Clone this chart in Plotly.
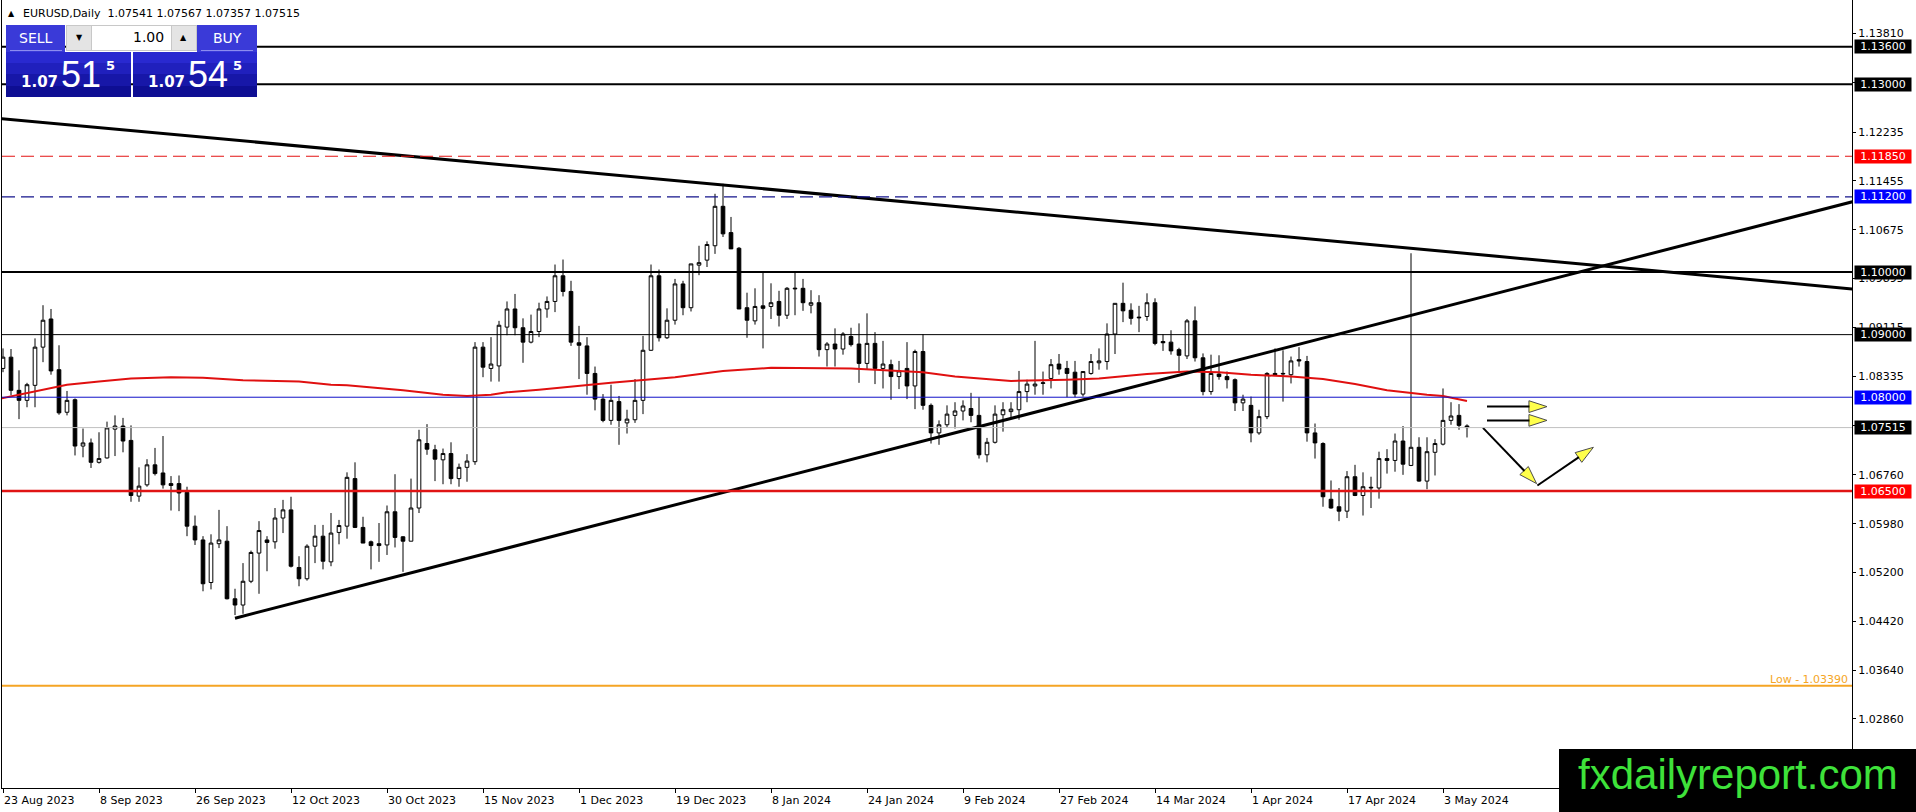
import plotly.graph_objects as go

# EURUSD daily candles, first visible bar 22 Aug 2023 .. last bar 8 May 2024
opens = [1.0846, 1.0864, 1.0811, 1.0795, 1.0819, 1.0880, 1.0925, 1.0844, 1.0776, 1.0796,
         1.0722, 1.0727, 1.0696, 1.0703, 1.0749, 1.0754, 1.0731, 1.0642, 1.0660, 1.0692,
         1.0679, 1.0662, 1.0662, 1.0648, 1.0594, 1.0572, 1.0504, 1.0566, 1.0570, 1.0478,
         1.0468, 1.0506, 1.0551, 1.0572, 1.0569, 1.0607, 1.0620, 1.0528, 1.0510, 1.0562,
         1.0578, 1.0537, 1.0584, 1.0594, 1.0670, 1.0592, 1.0569, 1.0566, 1.0564, 1.0617,
         1.0577, 1.0570, 1.0623, 1.0726, 1.0716, 1.0700, 1.0710, 1.0670, 1.0688, 1.0697,
         1.0880, 1.0846, 1.0850, 1.0912, 1.0941, 1.0911, 1.0888, 1.0905, 1.0941, 1.0953,
         1.0994, 1.0969, 1.0887, 1.0882, 1.0838, 1.0797, 1.0763, 1.0793, 1.0759, 1.0764,
         1.0795, 1.0875, 1.0994, 1.0895, 1.0923, 1.0981, 1.0943, 1.1011, 1.1019, 1.1042,
         1.1105, 1.1063, 1.1038, 1.0943, 1.0922, 1.0946, 1.0945, 1.0953, 1.0931, 1.0973,
         1.0974, 1.0947, 1.0951, 1.0876, 1.0885, 1.0877, 1.0897, 1.0885, 1.0854, 1.0886,
         1.0846, 1.0852, 1.0833, 1.0846, 1.0818, 1.0873, 1.0787, 1.0743, 1.0756, 1.0771,
         1.0778, 1.0782, 1.0771, 1.0708, 1.0728, 1.0772, 1.0777, 1.0780, 1.0809, 1.0818,
         1.0822, 1.0830, 1.0853, 1.0846, 1.0840, 1.0805, 1.0838, 1.0855, 1.0857, 1.0901,
         1.0950, 1.0939, 1.0928, 1.0929, 1.0951, 1.0889, 1.0888, 1.0876, 1.0866, 1.0922,
         1.0863, 1.0809, 1.0837, 1.0833, 1.0828, 1.0791, 1.0787, 1.0743, 1.0769, 1.0838,
         1.0837, 1.0836, 1.0860, 1.0857, 1.0743, 1.0726, 1.0637, 1.0625, 1.0618, 1.0673,
         1.0643, 1.0655, 1.0655, 1.0702, 1.0699, 1.0730, 1.0691, 1.0720, 1.0666, 1.0712,
         1.0725, 1.0763, 1.0771, 1.07541]
highs = [1.0878, 1.0877, 1.0843, 1.0823, 1.0894, 1.0947, 1.0941, 1.0883, 1.0810, 1.0798,
         1.0750, 1.0734, 1.0744, 1.0761, 1.0771, 1.0767, 1.0755, 1.0688, 1.0701, 1.0719,
         1.0738, 1.0674, 1.0675, 1.0657, 1.0611, 1.0578, 1.0581, 1.0620, 1.0594, 1.0494,
         1.0535, 1.0555, 1.0602, 1.0578, 1.0623, 1.0636, 1.0641, 1.0546, 1.0565, 1.0596,
         1.0596, 1.0615, 1.0604, 1.0680, 1.0696, 1.0609, 1.0571, 1.0599, 1.0627, 1.0677,
         1.0578, 1.0670, 1.0748, 1.0757, 1.0724, 1.0718, 1.0728, 1.0694, 1.0709, 1.0888,
         1.0888, 1.0896, 1.0922, 1.0953, 1.0965, 1.0926, 1.0932, 1.0951, 1.0961, 1.1012,
         1.1020, 1.0986, 1.0914, 1.0896, 1.0849, 1.0805, 1.0820, 1.0802, 1.0780, 1.0829,
         1.0898, 1.1012, 1.1004, 1.0942, 1.0989, 1.0986, 1.1013, 1.1042, 1.1049, 1.1125,
         1.1141, 1.1088, 1.1040, 1.0967, 1.0974, 1.1001, 1.0982, 1.0970, 1.0976, 1.1001,
         1.0989, 1.0971, 1.0963, 1.0888, 1.0910, 1.0904, 1.0911, 1.0918, 1.0934, 1.0904,
         1.0890, 1.0860, 1.0858, 1.0888, 1.0876, 1.0901, 1.0790, 1.0763, 1.0787, 1.0792,
         1.0795, 1.0807, 1.0800, 1.0735, 1.0787, 1.0792, 1.0792, 1.0842, 1.0828, 1.0890,
         1.0841, 1.0861, 1.0869, 1.0858, 1.0858, 1.0841, 1.0869, 1.0878, 1.0918, 1.0950,
         1.0983, 1.0950, 1.0946, 1.0966, 1.0958, 1.0901, 1.0907, 1.0879, 1.0925, 1.0945,
         1.0870, 1.0868, 1.0867, 1.0841, 1.0830, 1.0804, 1.0801, 1.0780, 1.0840, 1.0878,
         1.0875, 1.0865, 1.0880, 1.0866, 1.0758, 1.0728, 1.0667, 1.0655, 1.0682, 1.0692,
         1.0680, 1.0673, 1.0713, 1.0717, 1.0742, 1.0754, 1.1030, 1.0736, 1.0736, 1.0733,
         1.0814, 1.0792, 1.0789, 1.07567]
lows = [1.0840, 1.0803, 1.0765, 1.0784, 1.0784, 1.0856, 1.0836, 1.0772, 1.0771, 1.0707,
        1.0704, 1.0687, 1.0694, 1.0702, 1.0706, 1.0712, 1.0633, 1.0633, 1.0657, 1.0675,
        1.0654, 1.0619, 1.0618, 1.0578, 1.0564, 1.0490, 1.0493, 1.0559, 1.0477, 1.0452,
        1.0454, 1.0503, 1.0486, 1.0522, 1.0558, 1.0583, 1.0528, 1.0498, 1.0507, 1.0535,
        1.0525, 1.0530, 1.0565, 1.0574, 1.0591, 1.0567, 1.0525, 1.0537, 1.0548, 1.0560,
        1.0521, 1.0570, 1.0615, 1.0708, 1.0666, 1.0661, 1.0661, 1.0657, 1.0665, 1.0692,
        1.0832, 1.0825, 1.0825, 1.0899, 1.0899, 1.0855, 1.0886, 1.0896, 1.0927, 1.0936,
        1.0961, 1.0882, 1.0829, 1.0804, 1.0779, 1.0760, 1.0756, 1.0724, 1.0742, 1.0759,
        1.0773, 1.0874, 1.0889, 1.0893, 1.0916, 1.0931, 1.0937, 1.0995, 1.1008, 1.1029,
        1.1056, 1.1037, 1.0941, 1.0895, 1.0916, 1.0878, 1.0925, 1.0913, 1.0925, 1.0931,
        1.0938, 1.0934, 1.0865, 1.0849, 1.0849, 1.0868, 1.0881, 1.0823, 1.0845, 1.0821,
        1.0814, 1.0796, 1.0813, 1.0797, 1.0781, 1.0780, 1.0726, 1.0724, 1.0751, 1.0750,
        1.0763, 1.0760, 1.0702, 1.0696, 1.0726, 1.0745, 1.0767, 1.0764, 1.0792, 1.0804,
        1.0804, 1.0814, 1.0836, 1.0800, 1.0800, 1.0801, 1.0836, 1.0844, 1.0844, 1.0869,
        1.0920, 1.0916, 1.0904, 1.0922, 1.0883, 1.0874, 1.0868, 1.0841, 1.0861, 1.0857,
        1.0803, 1.0804, 1.0828, 1.0814, 1.0778, 1.0778, 1.0728, 1.0740, 1.0765, 1.0835,
        1.0793, 1.0822, 1.0849, 1.0729, 1.0702, 1.0625, 1.0622, 1.0602, 1.0607, 1.0642,
        1.0611, 1.0623, 1.0638, 1.0678, 1.0681, 1.0676, 1.0690, 1.0665, 1.0653, 1.0675,
        1.0723, 1.0756, 1.0748, 1.07357]
closes = [1.0864, 1.0811, 1.0795, 1.0820, 1.0880, 1.0923, 1.0842, 1.0775, 1.0795, 1.0722,
          1.0727, 1.0696, 1.0702, 1.0751, 1.0754, 1.0730, 1.0643, 1.0658, 1.0692, 1.0678,
          1.0660, 1.0659, 1.0647, 1.0594, 1.0572, 1.0502, 1.0567, 1.0572, 1.0478, 1.0468,
          1.0506, 1.0552, 1.0587, 1.0568, 1.0607, 1.0620, 1.0530, 1.0510, 1.0562, 1.0578,
          1.0538, 1.0583, 1.0595, 1.0672, 1.0592, 1.0567, 1.0563, 1.0563, 1.0617, 1.0576,
          1.0570, 1.0623, 1.0732, 1.0717, 1.0701, 1.0710, 1.0670, 1.0688, 1.0698, 1.0880,
          1.0848, 1.0853, 1.0915, 1.0941, 1.0911, 1.0888, 1.0905, 1.0941, 1.0953, 1.0994,
          1.0969, 1.0888, 1.0883, 1.0838, 1.0797, 1.0763, 1.0795, 1.0763, 1.0765, 1.0795,
          1.0875, 1.0994, 1.0895, 1.0923, 1.0981, 1.0943, 1.1013, 1.1015, 1.1044, 1.1105,
          1.1061, 1.1037, 1.0941, 1.0923, 1.0945, 1.0942, 1.0951, 1.0931, 1.0974, 1.0974,
          1.0951, 1.0951, 1.0876, 1.0885, 1.0877, 1.0901, 1.0884, 1.0854, 1.0886, 1.0846,
          1.0853, 1.0833, 1.0842, 1.0818, 1.0873, 1.0787, 1.0743, 1.0756, 1.0773, 1.0778,
          1.0786, 1.0771, 1.0708, 1.0728, 1.0773, 1.0780, 1.0781, 1.0809, 1.0821, 1.0821,
          1.0823, 1.0852, 1.0845, 1.0838, 1.0805, 1.0841, 1.0857, 1.0858, 1.0901, 1.0950,
          1.0938, 1.0926, 1.0927, 1.0951, 1.0886, 1.0887, 1.0874, 1.0867, 1.0922, 1.0863,
          1.0809, 1.0838, 1.0833, 1.0828, 1.0791, 1.0797, 1.0743, 1.0769, 1.0838, 1.0836,
          1.0838, 1.0858, 1.0858, 1.0743, 1.0727, 1.0641, 1.0623, 1.0618, 1.0673, 1.0643,
          1.0657, 1.0656, 1.0702, 1.0699, 1.0730, 1.0693, 1.0720, 1.0666, 1.0713, 1.0726,
          1.0763, 1.0770, 1.0755, 1.07515]
bars = list(range(len(opens)))

# moving average (red) at some bars
ma_bars = [-1, 4, 8, 12, 16, 21, 25, 30, 33, 37, 41, 43, 50, 55, 58, 61, 63, 67, 76, 84,
           90, 96, 106, 111, 115, 119, 126, 133, 137, 143, 148, 152, 156, 161, 165, 169,
           173, 178, 180, 183]
ma_values = [1.0796, 1.0809, 1.0820, 1.0825, 1.0830, 1.0832, 1.0831, 1.0827, 1.0826, 1.0825,
             1.0820, 1.0819, 1.0811, 1.0804, 1.0802, 1.0804, 1.0808, 1.0812, 1.0823, 1.0832,
             1.0842, 1.0847, 1.0846, 1.0842, 1.0840, 1.0833, 1.0826, 1.0828, 1.0830, 1.0837,
             1.0841, 1.0840, 1.0836, 1.0833, 1.0829, 1.0821, 1.0811, 1.0804, 1.0802, 1.0794]

date_ticks = [0, 12, 24, 36, 48, 60, 72, 84, 96, 108, 120, 132, 144, 156, 168, 180]
date_labels = ["23 Aug 2023", "8 Sep 2023", "26 Sep 2023", "12 Oct 2023", "30 Oct 2023",
               "15 Nov 2023", "1 Dec 2023", "19 Dec 2023", "8 Jan 2024", "24 Jan 2024",
               "9 Feb 2024", "27 Feb 2024", "14 Mar 2024", "1 Apr 2024", "17 Apr 2024",
               "3 May 2024"]

price_ticks = [1.13810, 1.13030, 1.12235, 1.11455, 1.10675, 1.09895, 1.09115, 1.08335,
               1.07555, 1.06760, 1.05980, 1.05200, 1.04420, 1.03640, 1.02860]

# horizontal levels drawn on the chart
levels = [1.13600, 1.13000, 1.11850, 1.11200, 1.10000, 1.09000, 1.08000, 1.07515, 1.06500]
low_level = 1.03390

# trend lines (bar, price)
down_line_x = [-1, 232]
down_line_y = [1.1246, 1.0972]
up_line_x = [29, 232]
up_line_y = [1.0447, 1.1115]

# yellow arrows (bar, price) start -> end
arrow_x0 = [185.5, 185.5, 185.0, 191.8]
arrow_y0 = [1.0785, 1.0763, 1.0751, 1.0659]
arrow_x1 = [193.0, 193.0, 191.7, 198.8]
arrow_y1 = [1.0785, 1.0763, 1.0662, 1.0720]

quote = [1.07541, 1.07567, 1.07357, 1.07515]
bid = 1.07515
ask = 1.07545
lot = 1.00

# ---- styling / geometry
W, H = 1916, 812
M_L, M_R, M_T, M_B = 2, 64, 0, 24
PW = W - M_L - M_R
PH = H - M_T - M_B
FONT = "DejaVu Sans"

level_style = {
    1.13600: ("black", 2, "solid", "black"),
    1.13000: ("black", 2, "solid", "black"),
    1.11850: ("#e41414", 1.2, "13px,6px", "#ff0000"),
    1.11200: ("#14148c", 1.2, "13px,6px", "#0000ff"),
    1.10000: ("black", 2, "solid", "black"),
    1.09000: ("black", 1, "solid", "black"),
    1.08000: ("#1010c8", 1, "solid", "#0000ff"),
    1.07515: ("#c0c0c0", 1, "solid", "black"),
    1.06500: ("#e01414", 2.5, "solid", "#ff0000"),
}


def fx(p):
    return (p - M_L) / PW


def fy(p):
    return 1 - (p - M_T) / PH


def rect(x0, y0, x1, y1, fill, line=None):
    return dict(type="rect", xref="paper", yref="paper",
                x0=fx(x0), x1=fx(x1), y0=fy(y0), y1=fy(y1),
                fillcolor=fill, line=dict(width=0 if line is None else 1, color=line or fill),
                layer="above")


def label(x, y, text, size, color="white", anchor="center", family=FONT, bold=False):
    if bold:
        text = f"<b>{text}</b>"
    return dict(x=fx(x), y=fy(y), xref="paper", yref="paper", text=text, showarrow=False,
                xanchor=anchor, yanchor="middle", font=dict(family=family, size=size, color=color))


fig = go.Figure()

fig.add_trace(go.Candlestick(
    x=bars, open=opens, high=highs, low=lows, close=closes,
    increasing=dict(line=dict(color="black", width=1), fillcolor="white"),
    decreasing=dict(line=dict(color="black", width=1), fillcolor="black"),
    whiskerwidth=0, hoverinfo="x+y", showlegend=False,
))

fig.add_trace(go.Scatter(x=ma_bars, y=ma_values, mode="lines",
                         line=dict(color="#e01010", width=2), hoverinfo="skip", showlegend=False))

for xs, ys in [(down_line_x, down_line_y), (up_line_x, up_line_y)]:
    fig.add_trace(go.Scatter(x=xs, y=ys, mode="lines", line=dict(color="black", width=3),
                             hoverinfo="skip", showlegend=False))

for x0, y0, x1, y1 in zip(arrow_x0, arrow_y0, arrow_x1, arrow_y1):
    fig.add_trace(go.Scatter(
        x=[x0, x1], y=[y0, y1], mode="lines+markers",
        line=dict(color="black", width=2),
        marker=dict(symbol="arrow", size=[0, 19], angleref="previous", color="#ffff00",
                    line=dict(color="black", width=1)),
        hoverinfo="skip", showlegend=False, cliponaxis=False,
    ))

shapes = []
annotations = []

for lv in levels:
    color, width, dash, box = level_style[lv]
    shapes.append(dict(type="line", xref="paper", yref="y", x0=0, x1=1, y0=lv, y1=lv,
                       line=dict(color=color, width=width, dash=dash), layer="above"))
    annotations.append(dict(x=1, xref="paper", y=lv, yref="y", xanchor="left", yanchor="middle",
                            xshift=2, text=f"{lv:.5f}", showarrow=False, width=56, height=13,
                            align="center", bgcolor=box, borderpad=0,
                            font=dict(family=FONT, size=11, color="white")))

shapes.append(dict(type="line", xref="paper", yref="y", x0=0, x1=1, y0=low_level, y1=low_level,
                   line=dict(color="#f5a524", width=2), layer="above"))
annotations.append(dict(x=1, xref="paper", y=low_level, yref="y", xanchor="right",
                        yanchor="bottom", xshift=-2, yshift=-2, showarrow=False,
                        text=f"Low - {low_level:.5f}",
                        font=dict(family=FONT, size=11, color="#f5a524")))

for t, txt in zip(date_ticks, date_labels):
    annotations.append(dict(x=t, xref="x", y=0, yref="paper", xanchor="left", yanchor="top",
                            xshift=-1, yshift=-4, text=txt, showarrow=False,
                            font=dict(family=FONT, size=11, color="black")))

# header line
annotations.append(label(6, 14, "▲", 8, "black", "left"))
annotations.append(label(21, 14, "EURUSD,Daily\u00a0\u00a0" + " ".join(f"{q:.5f}" for q in quote),
                         11, "black", "left"))

# one-click trading panel
for x0, x1 in [(6, 131), (133, 257)]:
    for y0, y1, c in [(52, 63, "#2929d0"), (63, 74, "#2020bd"), (74, 86, "#1717a8"),
                      (86, 97, "#0e0e93")]:
        shapes.append(rect(x0, y0, x1, y1, c))
shapes.append(rect(6, 25, 65, 52, "#3a3ad8"))
shapes.append(rect(197, 25, 257, 52, "#3a3ad8"))
for x0, x1 in [(10, 62), (201, 253)]:
    shapes.append(dict(type="line", xref="paper", yref="paper", x0=fx(x0), x1=fx(x1),
                       y0=fy(50.5), y1=fy(50.5), line=dict(color="#8c8cf0", width=1),
                       layer="above"))
shapes.append(rect(66, 25, 197, 51, "#c8c8c8"))
shapes.append(rect(67, 26, 91, 50, "#e4e4e4"))
shapes.append(rect(92, 26, 171, 50, "white"))
shapes.append(rect(172, 26, 196, 50, "#e4e4e4"))

annotations.append(label(35.5, 38, "SELL", 14))
annotations.append(label(227, 38, "BUY", 14))
annotations.append(label(166, 37, f"{lot:.2f}", 14, "black", "right"))
annotations.append(label(79, 37, "▼", 8, "black"))
annotations.append(label(183.5, 37, "▲", 8, "black"))
for price, cx in [(bid, 6), (ask, 133)]:
    s = f"{price:.5f}"
    annotations.append(label(cx + 33, 82, s[:4], 15, bold=True))
    annotations.append(label(cx + 75, 74, s[4:6], 36, family="Liberation Sans"))
    annotations.append(label(cx + 104, 65, s[6], 13, bold=True))

# watermark
shapes.append(rect(1559, 749, 1916, 812, "black"))
annotations.append(label(1737.5, 774, "fxdailyreport.com", 42, "#3ee23a",
                         family="Liberation Sans"))

fig.update_layout(
    width=W, height=H, autosize=False,
    margin=dict(l=M_L, r=M_R, t=M_T, b=M_B, pad=0),
    paper_bgcolor="white", plot_bgcolor="white",
    font=dict(family=FONT, size=11, color="black"),
    showlegend=False,
    shapes=shapes, annotations=annotations,
    boxgap=0.35,
    xaxis=dict(range=[-0.125, 231.125], rangeslider=dict(visible=False), showgrid=False,
               zeroline=False, showline=True, linecolor="black", linewidth=1,
               tickvals=date_ticks, ticks="outside", ticklen=4, tickcolor="black",
               showticklabels=False, fixedrange=True),
    yaxis=dict(range=[1.01757, 1.14346], side="right", showgrid=False, zeroline=False,
               showline=True, mirror=True, linecolor="black", linewidth=1,
               tickvals=price_ticks, ticktext=[f"{v:.5f}" for v in price_ticks],
               ticks="outside", ticklen=3, tickcolor="black",
               tickfont=dict(family=FONT, size=11, color="black"), fixedrange=True),
)

# the page body has a default 8px margin; drop it so the figure fills the window
fig.write_html("out.html", config={"displayModeBar": False},
               post_script="document.body.style.margin='0px';")
